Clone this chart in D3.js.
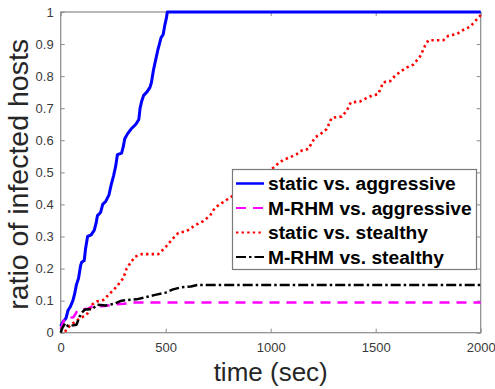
<!DOCTYPE html>
<html>
<head>
<meta charset="utf-8">
<script src="https://cdn.jsdelivr.net/npm/d3@7"></script>
<style>
  html, body { margin: 0; padding: 0; background: #fff; }
  svg { display: block; font-family: "Liberation Sans", Arial, sans-serif; }
</style>
</head>
<body>
<svg id="chart" width="495" height="389"></svg>
<script>
// Tick values for both axes
const timeTicks = [0, 500, 1000, 1500, 2000];
const ratioTicks = [0, 0.1, 0.2, 0.3, 0.4, 0.5, 0.6, 0.7, 0.8, 0.9, 1];

// Infection ratio over time, [time in sec, ratio]
const staticAggressive = [
  [0, 0.02], [12, 0.035], [25, 0.045], [35, 0.07], [45, 0.08], [58, 0.1],
  [66, 0.12], [75, 0.15], [85, 0.17], [95, 0.21], [100, 0.22], [112, 0.225],
  [118, 0.26], [128, 0.3], [145, 0.305], [160, 0.32], [168, 0.34], [175, 0.365],
  [190, 0.375], [200, 0.4], [215, 0.41], [230, 0.43], [240, 0.46], [252, 0.49],
  [262, 0.52], [270, 0.555], [290, 0.56], [298, 0.58], [305, 0.605], [318, 0.62],
  [335, 0.635], [358, 0.65], [372, 0.665], [378, 0.7], [385, 0.72], [395, 0.74],
  [410, 0.75], [425, 0.765], [432, 0.78], [442, 0.82], [452, 0.85], [462, 0.88],
  [470, 0.9], [478, 0.92], [488, 0.93], [496, 0.96], [503, 0.98], [508, 1.0],
  [2000, 1.0]
];

const mrhmAggressive = [
  [0, 0.012], [10, 0.03], [20, 0.045], [60, 0.048], [72, 0.06], [80, 0.07],
  [130, 0.075], [150, 0.082], [210, 0.083], [250, 0.088], [300, 0.09],
  [350, 0.094], [2000, 0.094]
];

const staticStealthy = [
  [20, 0.003], [44, 0.022], [70, 0.035], [92, 0.045], [124, 0.056], [140, 0.075],
  [150, 0.088], [171, 0.097], [203, 0.102], [235, 0.123], [267, 0.144], [298, 0.17],
  [314, 0.2], [335, 0.22], [354, 0.237], [386, 0.245], [465, 0.245], [497, 0.265],
  [529, 0.29], [560, 0.311], [600, 0.317], [640, 0.335], [679, 0.348], [711, 0.365],
  [735, 0.39], [767, 0.404], [798, 0.418], [850, 0.44], [900, 0.46], [950, 0.48],
  [1005, 0.51], [1029, 0.524], [1060, 0.539], [1092, 0.547], [1124, 0.557],
  [1148, 0.568], [1179, 0.573], [1211, 0.609], [1235, 0.618], [1267, 0.635],
  [1290, 0.67], [1338, 0.674], [1362, 0.692], [1381, 0.718], [1425, 0.721],
  [1449, 0.729], [1481, 0.739], [1512, 0.744], [1536, 0.781], [1568, 0.784],
  [1592, 0.801], [1624, 0.817], [1648, 0.827], [1679, 0.836], [1711, 0.861],
  [1735, 0.895], [1751, 0.912], [1822, 0.912], [1846, 0.926], [1886, 0.931],
  [1917, 0.944], [1949, 0.954], [1973, 0.971], [2000, 0.99]
];

const mrhmStealthy = [
  [0, 0.0], [8, 0.015], [22, 0.03], [35, 0.02], [75, 0.025], [90, 0.05],
  [100, 0.062], [115, 0.072], [150, 0.073], [172, 0.087], [215, 0.085],
  [255, 0.09], [290, 0.1], [360, 0.104], [400, 0.11], [450, 0.118], [500, 0.125],
  [535, 0.135], [570, 0.141], [620, 0.144], [650, 0.149], [2000, 0.149]
];

const seriesNames = [
  "static vs. aggressive",
  "M-RHM vs. aggressive",
  "static vs. stealthy",
  "M-RHM vs. stealthy"
];
const seriesData = [staticAggressive, mrhmAggressive, staticStealthy, mrhmStealthy];
const seriesColors = ["#0000ff", "#ff00ff", "#ff0000", "#000000"];
const seriesDash = [null, "10,7", "2.4,3.2", "10,3,2.5,3"];
const seriesWidth = [3, 2.5, 2.6, 2.5];

const svg = d3.select("#chart");
const plot = { left: 60.7, right: 480.7, top: 12, bottom: 332.7 };

const x = d3.scaleLinear().domain([0, 2000]).range([plot.left, plot.right]);
const y = d3.scaleLinear().domain([0, 1]).range([plot.bottom, plot.top]);

const axisColor = "#8a8a8a";
const labelColor = "#3a3a3a";
const tickLen = 4;

// Axes with inward ticks on all four sides
function styleAxis(g) {
  g.select(".domain").remove();
  g.selectAll(".tick line").attr("stroke", axisColor).attr("stroke-width", 1);
  g.selectAll(".tick text").attr("fill", labelColor).attr("font-size", 13)
    .attr("font-family", "Liberation Sans, Arial, sans-serif");
}

svg.append("g")
  .attr("transform", `translate(0,${plot.bottom})`)
  .call(d3.axisBottom(x).tickValues(timeTicks).tickFormat(d3.format("d"))
    .tickSizeInner(-tickLen).tickSizeOuter(0).tickPadding(10))
  .call(styleAxis);

svg.append("g")
  .attr("transform", `translate(0,${plot.top})`)
  .call(d3.axisTop(x).tickValues(timeTicks).tickFormat("")
    .tickSizeInner(-tickLen).tickSizeOuter(0))
  .call(styleAxis);

svg.append("g")
  .attr("transform", `translate(${plot.left},0)`)
  .call(d3.axisLeft(y).tickValues(ratioTicks).tickFormat(d => d3.format("")(+d.toFixed(1)))
    .tickSizeInner(-tickLen).tickSizeOuter(0).tickPadding(7))
  .call(styleAxis);

svg.append("g")
  .attr("transform", `translate(${plot.right},0)`)
  .call(d3.axisRight(y).tickValues(ratioTicks).tickFormat("")
    .tickSizeInner(-tickLen).tickSizeOuter(0))
  .call(styleAxis);

// Plot box
svg.append("rect")
  .attr("x", plot.left).attr("y", plot.top)
  .attr("width", plot.right - plot.left).attr("height", plot.bottom - plot.top)
  .attr("fill", "none").attr("stroke", axisColor).attr("stroke-width", 1.2);

// Curves
const line = d3.line().x(d => x(d[0])).y(d => y(d[1]));
seriesData.forEach((data, i) => {
  svg.append("path")
    .datum(data)
    .attr("d", line)
    .attr("fill", "none")
    .attr("stroke", seriesColors[i])
    .attr("stroke-width", seriesWidth[i])
    .attr("stroke-dasharray", seriesDash[i])
    .attr("stroke-linejoin", "round");
});

// Axis titles
svg.append("text")
  .attr("x", (plot.left + plot.right) / 2).attr("y", 381)
  .attr("text-anchor", "middle").attr("font-size", 26).attr("fill", "#262626")
  .text("time (sec)");

svg.append("text")
  .attr("transform", `translate(28,${(plot.top + plot.bottom) / 2 + 2}) rotate(-90)`)
  .attr("text-anchor", "middle").attr("font-size", 28.5).attr("fill", "#262626")
  .text("ratio of infected hosts");

// Legend
const legend = svg.append("g");
legend.append("rect")
  .attr("x", 232.5).attr("y", 169.5).attr("width", 244).attr("height", 100)
  .attr("fill", "#fff").attr("stroke", "#7a7a7a").attr("stroke-width", 1.2);
const rowY = [183.5, 208, 232.5, 257];
seriesNames.forEach((name, i) => {
  legend.append("line")
    .attr("x1", 236).attr("x2", 264).attr("y1", rowY[i]).attr("y2", rowY[i])
    .attr("stroke", seriesColors[i])
    .attr("stroke-width", seriesWidth[i] - 0.5)
    .attr("stroke-dasharray", seriesDash[i]);
  legend.append("text")
    .attr("x", 268).attr("y", rowY[i]).attr("dy", "0.35em")
    .attr("font-size", 19.2).attr("font-weight", "bold").attr("fill", "#000")
    .text(name);
});
</script>
</body>
</html>
